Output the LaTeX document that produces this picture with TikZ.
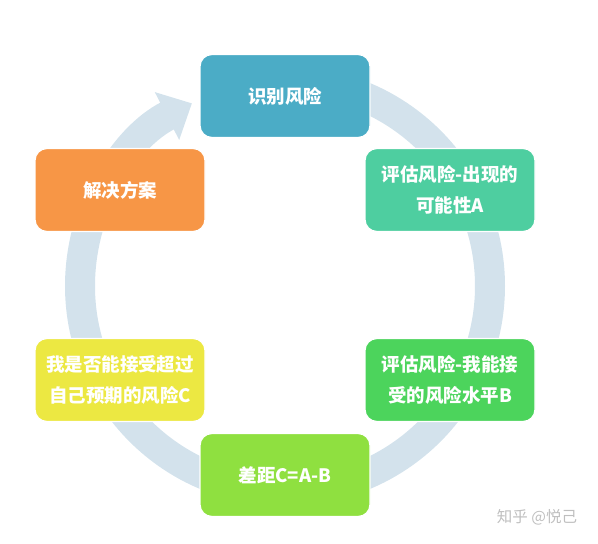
\documentclass[tikz,border=0pt]{standalone}
\usepackage{fontspec}
\newfontfamily\cjk{Noto Sans CJK SC}
\usetikzlibrary{arrows.meta, positioning}
\definecolor{ringblue}{RGB}{211,226,236}
\definecolor{topblue}{RGB}{75,172,198}
\definecolor{mint}{RGB}{78,206,160}
\definecolor{leaf}{RGB}{76,212,92}
\definecolor{lime}{RGB}{143,224,64}
\definecolor{sun}{RGB}{236,232,66}
\definecolor{tangerine}{RGB}{247,150,70}
\tikzset{
  stepbox/.style={rectangle, rounded corners=12pt, minimum width=170pt, minimum height=83pt,
    draw=white, line width=1.2pt, text=white, align=center,
    font=\cjk\bfseries\fontsize{18.5}{31}\selectfont},
  watermark/.style={text=black!25, font=\cjk\fontsize{15.5}{17}\selectfont},
}

\begin{document}
\begin{tikzpicture}[x=1pt,y=1pt]
        \useasboundingbox (0,0) rectangle (598,544);
        \coordinate (hub) at (285,258);

        % the cycle ring
        \draw[ringblue, line width=30pt, -{Triangle[width=52pt,length=28pt]}]
            ([shift={(90:205pt)}]hub) arc[start angle=90, end angle=-243, radius=205pt];

        \node[stepbox, fill=topblue] (identify) at (285,448) {识别风险};
        \node[stepbox, fill=mint] (likely) at (450,354) {评估风险-出现的\\可能性A};
        \node[stepbox, fill=leaf] (accept) at (450,164) {评估风险-我能接\\受的风险水平B};
        \node[stepbox, fill=lime] (gap) at (285,69) {差距C=A-B};
        \node[stepbox, fill=sun] (exceed) at (120,164) {我是否能接受超过\\自己预期的风险C};
        \node[stepbox, fill=tangerine] (solve) at (120,354) {解决方案};

        \node[watermark] (mark) at (537,27) {知乎 @悦己};
\end{tikzpicture}
\end{document}
